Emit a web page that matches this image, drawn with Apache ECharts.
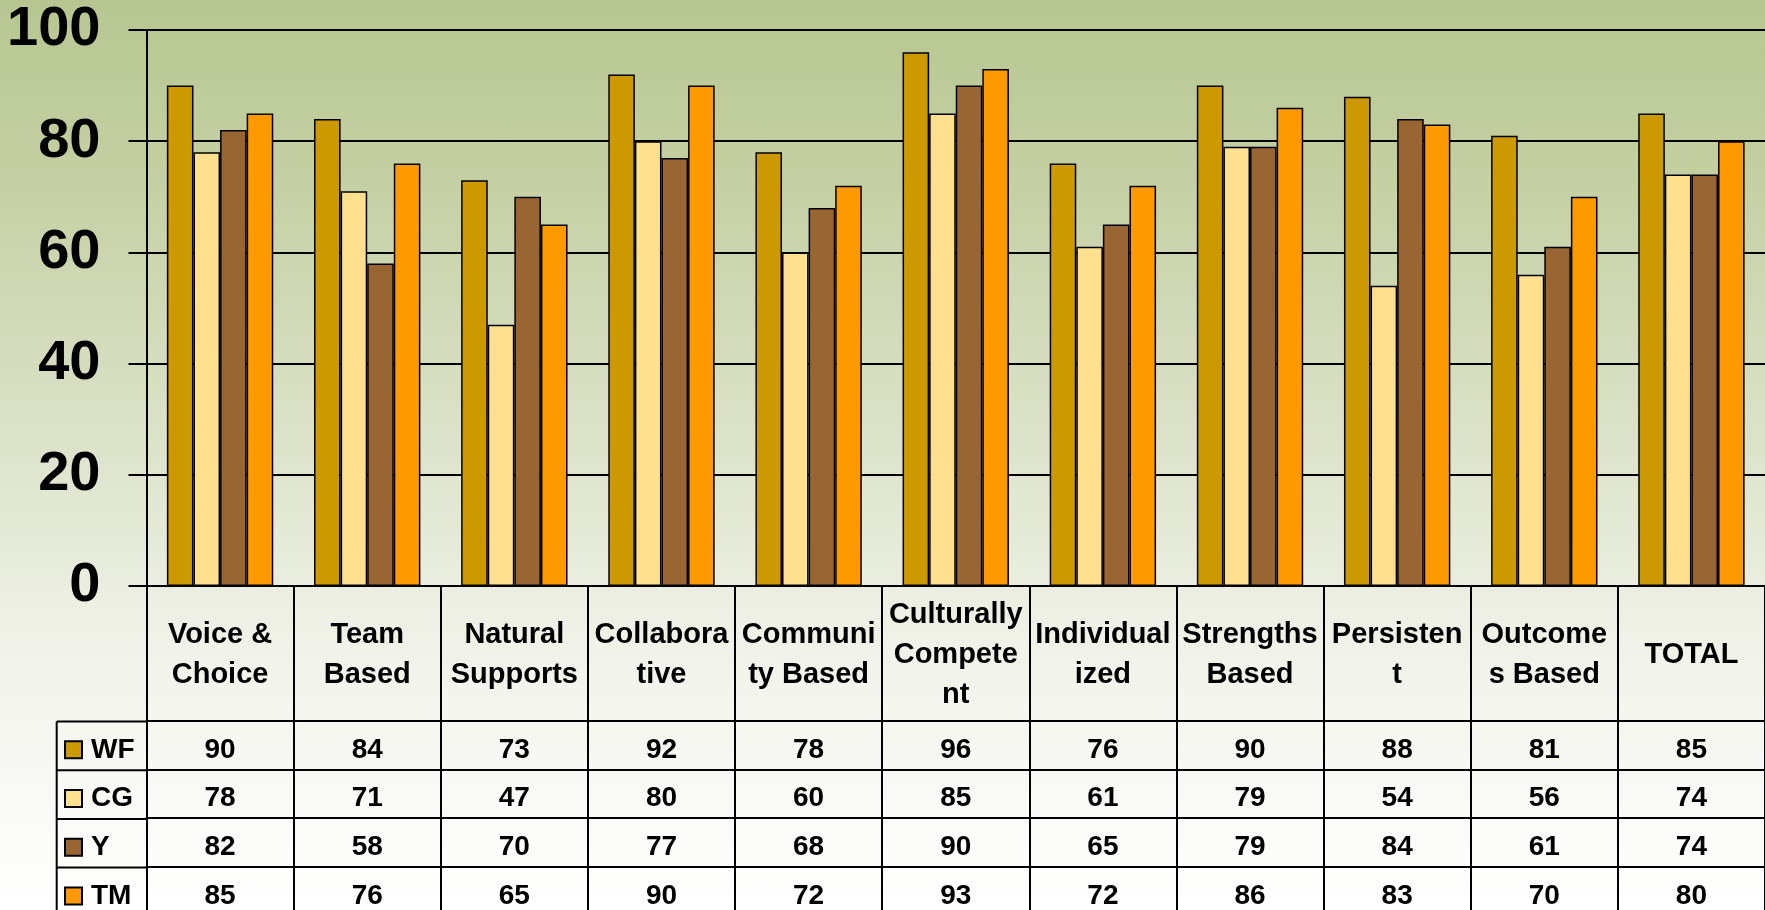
<!DOCTYPE html>
<html>
<head>
<meta charset="utf-8">
<title>Wraparound scores</title>
<script src="https://cdn.jsdelivr.net/npm/echarts@6/dist/echarts.min.js"></script>
<style>
  html, body { margin: 0; padding: 0; }
  #chart {
    width: 1765px;
    height: 910px;
    background: linear-gradient(to bottom, #b7c691 0%, #c3cfa1 18%, #d5ddbf 40%, #e3e8d4 56%, #f1f3ea 72%, #ffffff 100%);
  }
</style>
</head>
<body>
<div id="chart"></div>
<script>
// 数据
const categories = ['Voice &\nChoice', 'Team\nBased', 'Natural\nSupports', 'Collabora\ntive', 'Communi\nty Based',
  'Culturally\nCompete\nnt', 'Individual\nized', 'Strengths\nBased', 'Persisten\nt', 'Outcome\ns Based', 'TOTAL'];
const seriesNames = ['WF', 'CG', 'Y', 'TM'];
const wf = [90, 84, 73, 92, 78, 96, 76, 90, 88, 81, 85];
const cg = [78, 71, 47, 80, 60, 85, 61, 79, 54, 56, 74];
const y = [82, 58, 70, 77, 68, 90, 65, 79, 84, 61, 74];
const tm = [85, 76, 65, 90, 72, 93, 72, 86, 83, 70, 80];
const yTicks = [0, 20, 40, 60, 80, 100];

const seriesValues = [wf, cg, y, tm];
const colors = ['#cc9900', '#ffe08f', '#996633', '#ff9900'];

// 布局
const font = '"Liberation Sans", Arial, sans-serif';
const gridLeft = 146.5;
const gridTop = 30;
const gridHeight = 557;
const colWidth = 148.4;
const headerH = 134.5; // 表头行高
const rowH = 48.7; // 数据行高
const tableLeft = 56.7; // 图例列左边
const bottomY = gridTop + gridHeight;

const chart = echarts.init(document.getElementById('chart'));

// 表头轴 + 每个系列一行数据轴
const xAxes = [{
  type: 'category',
  data: categories,
  position: 'bottom',
  axisLine: { lineStyle: { color: '#000', width: 2 } },
  axisTick: { show: true, interval: 0, length: headerH, lineStyle: { color: '#000', width: 2 } },
  axisLabel: {
    interval: 0,
    color: '#000',
    fontFamily: font,
    fontWeight: 'bold',
    fontSize: 29,
    lineHeight: 40,
    verticalAlign: 'middle',
    margin: headerH / 2 + 2
  }
}];
seriesValues.forEach((vals, i) => {
  xAxes.push({
    type: 'category',
    data: categories,
    position: 'bottom',
    offset: headerH + i * rowH,
    axisLine: { lineStyle: { color: '#000', width: 2 } },
    axisTick: { show: true, interval: 0, length: rowH, lineStyle: { color: '#000', width: 2 } },
    axisLabel: {
      interval: 0,
      color: '#000',
      fontFamily: font,
      fontWeight: 'bold',
      fontSize: 28,
      verticalAlign: 'middle',
      margin: rowH / 2 + 5,
      formatter: (v, idx) => String(vals[idx])
    }
  });
});

// 图例列的表格线
const tableGraphics = [{
  type: 'line',
  shape: { x1: tableLeft, y1: bottomY + headerH, x2: tableLeft, y2: 910 },
  style: { stroke: '#000', lineWidth: 2 }
}];
for (let i = 0; i < seriesValues.length; i++) {
  const ly = bottomY + headerH + i * rowH;
  tableGraphics.push({
    type: 'line',
    shape: { x1: tableLeft, y1: ly, x2: gridLeft, y2: ly },
    style: { stroke: '#000', lineWidth: 2 }
  });
}

const option = {
  animation: false,
  grid: { left: gridLeft, top: gridTop, width: colWidth * categories.length, height: gridHeight },
  legend: {
    orient: 'vertical',
    left: 64,
    top: bottomY + headerH + 4,
    height: rowH * seriesNames.length + 20, // 不让图例换列
    padding: 0,
    itemGap: 0,
    itemWidth: 17,
    itemHeight: 17,
    icon: 'rect',
    selectedMode: false,
    data: seriesNames,
    textStyle: {
      color: '#000',
      fontFamily: font,
      fontWeight: 'bold',
      fontSize: 28,
      lineHeight: rowH,
      padding: [0, 0, 0, 4]
    }
  },
  xAxis: xAxes,
  yAxis: {
    type: 'value',
    min: yTicks[0],
    max: yTicks[yTicks.length - 1],
    interval: 20,
    axisLine: { show: true, lineStyle: { color: '#000', width: 2 } },
    axisTick: { show: true, length: 18, lineStyle: { color: '#000', width: 2 } },
    splitLine: { lineStyle: { color: '#000', width: 2 } },
    axisLabel: {
      color: '#000',
      fontFamily: font,
      fontWeight: 'bold',
      fontSize: 56,
      margin: 46,
      padding: [7, 0, 0, 0]
    }
  },
  graphic: tableGraphics,
  series: seriesNames.map((name, i) => ({
    name: name,
    type: 'bar',
    data: seriesValues[i],
    barGap: '0%',
    barCategoryGap: '27.7%',
    itemStyle: { color: colors[i], borderColor: '#000', borderWidth: 1.5 }
  }))
};

chart.setOption(option);
</script>
</body>
</html>
